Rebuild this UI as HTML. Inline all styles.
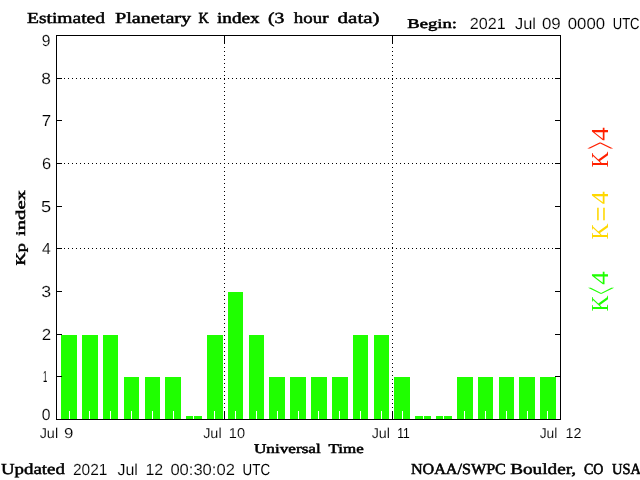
<!DOCTYPE html>
<html><head><meta charset="utf-8"><title>Estimated Planetary K index</title>
<style>html,body{margin:0;padding:0;background:#fff;overflow:hidden}svg{display:block;will-change:transform}text{text-rendering:geometricPrecision}.s{font-family:"Liberation Sans",sans-serif;fill:#000;stroke:#fff;stroke-width:0.12px}.b{font-family:"Liberation Serif",serif;font-weight:normal;fill:#000;stroke:#000;stroke-width:0.55px}.k{font-family:"Liberation Serif",serif}</style></head><body>
<svg width="640" height="480" viewBox="0 0 640 480">
<rect x="0" y="0" width="640" height="480" fill="#fff"/>
<g shape-rendering="crispEdges" stroke="#000" stroke-width="1" stroke-dasharray="1 3" fill="none">
<line x1="64" y1="248.5" x2="560" y2="248.5"/>
<line x1="64" y1="163.5" x2="560" y2="163.5"/>
<line x1="64" y1="78.5" x2="560" y2="78.5"/>
<line x1="224.5" y1="47" x2="224.5" y2="419"/>
<line x1="392.5" y1="47" x2="392.5" y2="419"/>
</g>
<g shape-rendering="crispEdges" fill="#1fff00">
<rect x="61" y="335" width="16" height="84"/>
<rect x="82" y="335" width="16" height="84"/>
<rect x="103" y="335" width="15" height="84"/>
<rect x="124" y="377" width="15" height="42"/>
<rect x="145" y="377" width="15" height="42"/>
<rect x="165" y="377" width="16" height="42"/>
<rect x="186" y="416" width="16" height="3"/>
<rect x="207" y="335" width="16" height="84"/>
<rect x="228" y="292" width="15" height="127"/>
<rect x="249" y="335" width="15" height="84"/>
<rect x="269" y="377" width="16" height="42"/>
<rect x="290" y="377" width="16" height="42"/>
<rect x="311" y="377" width="16" height="42"/>
<rect x="332" y="377" width="16" height="42"/>
<rect x="353" y="335" width="15" height="84"/>
<rect x="374" y="335" width="15" height="84"/>
<rect x="394" y="377" width="16" height="42"/>
<rect x="415" y="416" width="16" height="3"/>
<rect x="436" y="416" width="16" height="3"/>
<rect x="457" y="377" width="16" height="42"/>
<rect x="478" y="377" width="15" height="42"/>
<rect x="499" y="377" width="15" height="42"/>
<rect x="519" y="377" width="16" height="42"/>
<rect x="540" y="377" width="16" height="42"/>
</g>
<g shape-rendering="crispEdges" fill="#000">
<rect x="56" y="35" width="505" height="1"/>
<rect x="56" y="419" width="505" height="1"/>
<rect x="56" y="35" width="1" height="385"/>
<rect x="560" y="35" width="1" height="385"/>
<rect x="56" y="376" width="6" height="1"/>
<rect x="555" y="376" width="6" height="1"/>
<rect x="56" y="334" width="6" height="1"/>
<rect x="555" y="334" width="6" height="1"/>
<rect x="56" y="291" width="6" height="1"/>
<rect x="555" y="291" width="6" height="1"/>
<rect x="56" y="248" width="6" height="1"/>
<rect x="555" y="248" width="6" height="1"/>
<rect x="56" y="206" width="6" height="1"/>
<rect x="555" y="206" width="6" height="1"/>
<rect x="56" y="163" width="6" height="1"/>
<rect x="555" y="163" width="6" height="1"/>
<rect x="56" y="120" width="6" height="1"/>
<rect x="555" y="120" width="6" height="1"/>
<rect x="56" y="78" width="6" height="1"/>
<rect x="555" y="78" width="6" height="1"/>
<rect x="224" y="35" width="1" height="9"/>
<rect x="224" y="411" width="1" height="9"/>
<rect x="392" y="35" width="1" height="9"/>
<rect x="392" y="411" width="1" height="9"/>
</g>
<g shape-rendering="crispEdges" fill="#fff">
<rect x="69" y="411" width="1" height="8"/>
<rect x="89" y="411" width="1" height="8"/>
<rect x="110" y="411" width="1" height="8"/>
<rect x="131" y="411" width="1" height="8"/>
<rect x="152" y="411" width="1" height="8"/>
<rect x="173" y="411" width="1" height="8"/>
<rect x="193" y="411" width="1" height="8"/>
<rect x="214" y="411" width="1" height="8"/>
<rect x="235" y="411" width="1" height="8"/>
<rect x="256" y="411" width="1" height="8"/>
<rect x="277" y="411" width="1" height="8"/>
<rect x="298" y="411" width="1" height="8"/>
<rect x="318" y="411" width="1" height="8"/>
<rect x="339" y="411" width="1" height="8"/>
<rect x="360" y="411" width="1" height="8"/>
<rect x="381" y="411" width="1" height="8"/>
<rect x="402" y="411" width="1" height="8"/>
<rect x="423" y="411" width="1" height="8"/>
<rect x="443" y="411" width="1" height="8"/>
<rect x="464" y="411" width="1" height="8"/>
<rect x="485" y="411" width="1" height="8"/>
<rect x="506" y="411" width="1" height="8"/>
<rect x="527" y="411" width="1" height="8"/>
<rect x="547" y="411" width="1" height="8"/>
</g>
<text class="b" font-size="15.4" style="stroke-width:0.489px" transform="translate(27.000 23.000) scale(1.2672 1)">Estimated</text>
<text class="b" font-size="15.4" style="stroke-width:0.480px" transform="translate(114.934 23.000) scale(1.3117 1)">Planetary</text>
<text class="b" font-size="15.4" style="stroke-width:0.597px" transform="translate(198.558 23.000) scale(0.9218 1)">K</text>
<text class="b" font-size="15.4" style="stroke-width:0.493px" transform="translate(217.000 23.000) scale(1.2462 1)">index</text>
<text class="b" font-size="15.4" style="stroke-width:0.487px" transform="translate(268.000 23.000) scale(1.2772 1)">(3</text>
<text class="b" font-size="15.4" style="stroke-width:0.497px" transform="translate(293.861 23.000) scale(1.2244 1)">hour</text>
<text class="b" font-size="15.4" style="stroke-width:0.471px" transform="translate(337.590 23.000) scale(1.3627 1)">data)</text>
<text class="b" font-size="13.3" style="stroke-width:0.507px" transform="translate(407.301 28.000) scale(1.3990 1)">Begin:</text>
<text class="s" font-size="16.0" transform="translate(469.784 29.000) scale(1.0076 1)">2021</text>
<text class="s" font-size="16.0" transform="translate(515.000 29.000) scale(1.0267 1)">Jul</text>
<text class="s" font-size="16.0" transform="translate(541.920 29.000) scale(1.0547 1)">09</text>
<text class="s" font-size="16.0" transform="translate(567.788 29.000) scale(1.0470 1)">0000</text>
<text class="s" font-size="16.0" style="stroke:none" transform="translate(612.727 29.000) scale(0.8147 1)">UTC</text>
<text class="s" font-size="16.0" transform="translate(41.833 420.000) scale(0.9787 1)">0</text>
<text class="s" font-size="16.0" style="stroke:none" transform="translate(43.108 382.000) scale(0.4775 1)">1</text>
<text class="s" font-size="16.0" transform="translate(41.644 340.000) scale(1.0552 1)">2</text>
<text class="s" font-size="16.0" transform="translate(41.323 297.000) scale(1.1101 1)">3</text>
<text class="s" font-size="16.0" transform="translate(42.000 254.000) scale(0.9834 1)">4</text>
<text class="s" font-size="16.0" transform="translate(40.931 212.000) scale(1.1391 1)">5</text>
<text class="s" font-size="16.0" transform="translate(41.909 169.000) scale(1.0232 1)">6</text>
<text class="s" font-size="16.0" transform="translate(41.632 126.000) scale(1.0553 1)">7</text>
<text class="s" font-size="16.0" transform="translate(41.212 84.000) scale(1.0935 1)">8</text>
<text class="s" font-size="16.0" transform="translate(41.718 46.000) scale(0.9744 1)">9</text>
<text class="s" font-size="14.4" transform="translate(39.638 438.000) scale(1.0053 1)">Jul</text>
<text class="s" font-size="14.4" transform="translate(63.967 438.000) scale(1.1705 1)">9</text>
<text class="s" font-size="14.4" transform="translate(203.130 438.000) scale(1.0053 1)">Jul</text>
<text class="s" font-size="14.4" transform="translate(228.816 438.000) scale(1.0127 1)">10</text>
<text class="s" font-size="14.4" transform="translate(371.652 438.000) scale(0.9975 1)">Jul</text>
<text class="s" font-size="14.4" style="stroke:none" transform="translate(397.195 438.000) scale(0.8386 1)">11</text>
<text class="s" font-size="14.4" transform="translate(539.667 438.000) scale(0.9628 1)">Jul</text>
<text class="s" font-size="14.4" transform="translate(565.398 438.000) scale(0.9969 1)">12</text>
<text class="b" font-size="13.3" style="stroke-width:0.528px" transform="translate(253.910 453.000) scale(1.2931 1)">Universal</text>
<text class="b" font-size="13.3" style="stroke-width:0.531px" transform="translate(328.483 453.000) scale(1.2752 1)">Time</text>
<text class="b" font-size="15.4" style="stroke-width:0.497px" transform="translate(0.964 474.000) scale(1.2269 1)">Updated</text>
<text class="s" font-size="16.0" transform="translate(72.909 475.000) scale(0.9674 1)">2021</text>
<text class="s" font-size="16.0" transform="translate(117.473 475.000) scale(0.9993 1)">Jul</text>
<text class="s" font-size="16.0" transform="translate(145.451 475.000) scale(0.9947 1)">12</text>
<text class="s" font-size="16.0" transform="translate(170.387 475.000) scale(1.0349 1)">00:30:02</text>
<text class="s" font-size="16.0" style="stroke:none" transform="translate(242.617 475.000) scale(0.8336 1)">UTC</text>
<text class="b" font-size="15.4" style="stroke-width:0.537px" transform="translate(410.888 474.000) scale(1.0477 1)">NOAA/SWPC</text>
<text class="b" font-size="15.4" style="stroke-width:0.493px" transform="translate(510.241 474.000) scale(1.2462 1)">Boulder,</text>
<text class="b" font-size="15.4" style="stroke-width:0.608px" transform="translate(584.000 474.000) scale(0.9048 1)">CO</text>
<text class="b" font-size="15.4" style="stroke-width:0.586px" transform="translate(611.962 474.000) scale(0.9386 1)">USA</text>
<g transform="translate(25 265.4) rotate(-90)">
<text class="b" font-size="13.3" style="stroke-width:0.513px" transform="translate(0.000 0.000) scale(1.3659 1)">Kp</text>
<text class="b" font-size="13.3" style="stroke-width:0.481px" transform="translate(29.419 0.000) scale(1.5530 1)">index</text>
</g>
<g transform="translate(608 167) rotate(-90)" fill="#ff2000">
<text class="k" font-size="24.4" transform="translate(-0.548 0.000) scale(0.9051 1)">K</text>
<text class="k" font-size="24.4" transform="translate(17.831 10.427) scale(0.5293 2.1993)">&gt;</text>
<text class="k" font-size="24.4" transform="translate(26.207 0.000) scale(1.1083 1)">4</text>
</g>
<g transform="translate(608 239) rotate(-90)" fill="#ffd800">
<text class="k" font-size="24.4" transform="translate(-0.548 0.000) scale(0.9051 1)">K</text>
<text class="k" font-size="24.4" transform="translate(17.459 3.204) scale(1.0979 1.2409)">=</text>
<text class="k" font-size="24.4" transform="translate(34.655 0.000) scale(1.0585 1)">4</text>
</g>
<g transform="translate(608 311) rotate(-90)" fill="#1fff00">
<text class="k" font-size="24.4" transform="translate(-0.548 0.000) scale(0.9051 1)">K</text>
<text class="k" font-size="24.4" transform="translate(16.462 10.704) scale(0.5377 2.2106)">&lt;</text>
<text class="k" font-size="24.4" transform="translate(26.229 0.000) scale(1.0938 1)">4</text>
</g>
</svg></body></html>
